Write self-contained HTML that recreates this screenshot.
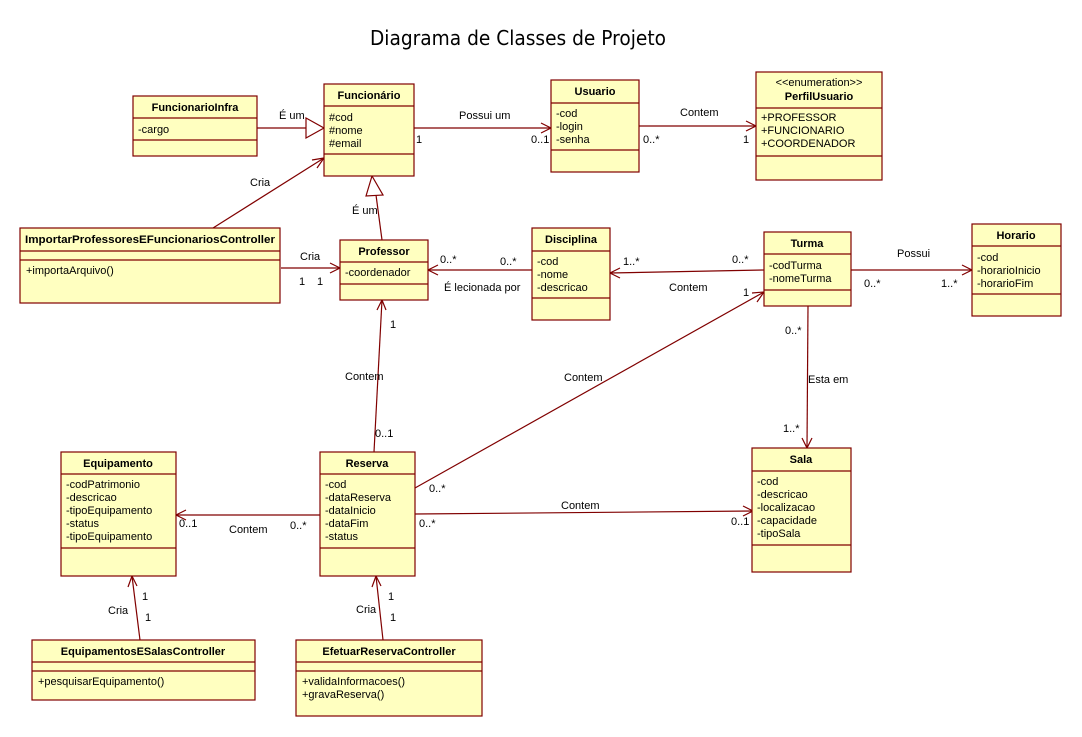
<!DOCTYPE html>
<html><head><meta charset="utf-8"><style>
html,body{margin:0;padding:0;background:#fff;}
svg{display:block;font-family:"Liberation Sans",sans-serif;}
.b{fill:#ffffc0;stroke:#800000;stroke-width:1.2;}
.l{stroke:#800000;stroke-width:1.2;fill:none;}
.t{font-size:11px;fill:#000;}
.h{font-size:11px;font-weight:bold;fill:#000;text-anchor:middle;}
</style></head><body>
<svg width="1082" height="737" viewBox="0 0 1082 737" xmlns="http://www.w3.org/2000/svg">
<text x="518" y="45" font-size="20" text-anchor="middle" textLength="296" lengthAdjust="spacingAndGlyphs" font-family="DejaVu Sans, sans-serif">Diagrama de Classes de Projeto</text>

<g class="l">
<line x1="257" y1="128" x2="306" y2="128"/><polygon points="306,118 324,128 306,138" fill="#fff"/>
<line x1="414" y1="128" x2="551" y2="128"/><polyline points="541,123 551,128 541,133"/>
<line x1="639" y1="126" x2="756" y2="126"/><polyline points="746,121 756,126 746,131"/>
<line x1="213" y1="228" x2="324" y2="158"/><polyline points="312,160 324,158 317,168"/>
<line x1="382" y1="240" x2="376" y2="195"/><polygon points="366,196 372,176 383,195" fill="#fff"/>
<line x1="281" y1="268" x2="340" y2="268"/><polyline points="330,263 340,268 330,273"/>
<line x1="532" y1="270" x2="428" y2="270"/><polyline points="438,265 428,270 438,275"/>
<line x1="764" y1="270" x2="610" y2="273"/><polyline points="620,268 610,273 620,278"/>
<line x1="851" y1="270" x2="972" y2="270"/><polyline points="962,265 972,270 962,275"/>
<line x1="808" y1="306" x2="807" y2="448"/><polyline points="802,438 807,448 812,438"/>
<line x1="374" y1="452" x2="382" y2="300"/><polyline points="377,310 382,300 386,310"/>
<line x1="415" y1="488" x2="764" y2="292"/><polyline points="752,293 764,292 757,302"/>
<line x1="415" y1="514" x2="753" y2="511"/><polyline points="743,506 753,511 743,516"/>
<line x1="320" y1="515" x2="176" y2="515"/><polyline points="186,510 176,515 186,520"/>
<line x1="140" y1="640" x2="132" y2="576"/><polyline points="128,587 132,576 137,586"/>
<line x1="383" y1="640" x2="376" y2="576"/><polyline points="372,587 376,576 381,586"/>
</g>

<g class="t">
<text x="279" y="119">É um</text>
<text x="459" y="119">Possui um</text>
<text x="416" y="143">1</text>
<text x="531" y="143">0..1</text>
<text x="680" y="116">Contem</text>
<text x="643" y="143">0..*</text>
<text x="743" y="143">1</text>
<text x="250" y="186">Cria</text>
<text x="352" y="214">É um</text>
<text x="300" y="260">Cria</text>
<text x="299" y="285">1</text>
<text x="317" y="285">1</text>
<text x="440" y="263">0..*</text>
<text x="500" y="265">0..*</text>
<text x="444" y="291">É lecionada por</text>
<text x="623" y="265">1..*</text>
<text x="732" y="263">0..*</text>
<text x="669" y="291">Contem</text>
<text x="897" y="257">Possui</text>
<text x="864" y="287">0..*</text>
<text x="941" y="287">1..*</text>
<text x="785" y="334">0..*</text>
<text x="808" y="383">Esta em</text>
<text x="783" y="432">1..*</text>
<text x="390" y="328">1</text>
<text x="345" y="380">Contem</text>
<text x="375" y="437">0..1</text>
<text x="564" y="381">Contem</text>
<text x="743" y="296">1</text>
<text x="429" y="492">0..*</text>
<text x="561" y="509">Contem</text>
<text x="419" y="527">0..*</text>
<text x="731" y="525">0..1</text>
<text x="179" y="527">0..1</text>
<text x="229" y="533">Contem</text>
<text x="290" y="529">0..*</text>
<text x="108" y="614">Cria</text>
<text x="142" y="600">1</text>
<text x="145" y="621">1</text>
<text x="356" y="613">Cria</text>
<text x="388" y="600">1</text>
<text x="390" y="621">1</text>
</g>

<rect class="b" x="133" y="96" width="124" height="60"/>
<line class="l" x1="133" y1="118" x2="257" y2="118"/><line class="l" x1="133" y1="140" x2="257" y2="140"/>
<text class="h" x="195" y="111">FuncionarioInfra</text>
<text class="t" x="138" y="133">-cargo</text>

<rect class="b" x="324" y="84" width="90" height="92"/>
<line class="l" x1="324" y1="106" x2="414" y2="106"/><line class="l" x1="324" y1="154" x2="414" y2="154"/>
<text class="h" x="369" y="99">Funcionário</text>
<text class="t" x="329" y="121">#cod</text><text class="t" x="329" y="134">#nome</text><text class="t" x="329" y="147">#email</text>

<rect class="b" x="551" y="80" width="88" height="92"/>
<line class="l" x1="551" y1="103" x2="639" y2="103"/><line class="l" x1="551" y1="150" x2="639" y2="150"/>
<text class="h" x="595" y="95">Usuario</text>
<text class="t" x="556" y="117">-cod</text><text class="t" x="556" y="130">-login</text><text class="t" x="556" y="143">-senha</text>

<rect class="b" x="756" y="72" width="126" height="108"/>
<line class="l" x1="756" y1="108" x2="882" y2="108"/><line class="l" x1="756" y1="156" x2="882" y2="156"/>
<text class="t" x="819" y="86" text-anchor="middle">&lt;&lt;enumeration&gt;&gt;</text>
<text class="h" x="819" y="100">PerfilUsuario</text>
<text class="t" x="761" y="121">+PROFESSOR</text><text class="t" x="761" y="134">+FUNCIONARIO</text><text class="t" x="761" y="147">+COORDENADOR</text>

<rect class="b" x="20" y="228" width="260" height="75"/>
<line class="l" x1="20" y1="251" x2="280" y2="251"/><line class="l" x1="20" y1="260" x2="280" y2="260"/>
<text class="h" x="150" y="243" textLength="250" lengthAdjust="spacingAndGlyphs">ImportarProfessoresEFuncionariosController</text>
<text class="t" x="26" y="274">+importaArquivo()</text>

<rect class="b" x="340" y="240" width="88" height="60"/>
<line class="l" x1="340" y1="262" x2="428" y2="262"/><line class="l" x1="340" y1="284" x2="428" y2="284"/>
<text class="h" x="384" y="255">Professor</text>
<text class="t" x="345" y="276">-coordenador</text>

<rect class="b" x="532" y="228" width="78" height="92"/>
<line class="l" x1="532" y1="251" x2="610" y2="251"/><line class="l" x1="532" y1="298" x2="610" y2="298"/>
<text class="h" x="571" y="243">Disciplina</text>
<text class="t" x="537" y="265">-cod</text><text class="t" x="537" y="278">-nome</text><text class="t" x="537" y="291">-descricao</text>

<rect class="b" x="764" y="232" width="87" height="74"/>
<line class="l" x1="764" y1="254" x2="851" y2="254"/><line class="l" x1="764" y1="290" x2="851" y2="290"/>
<text class="h" x="807" y="247">Turma</text>
<text class="t" x="769" y="269">-codTurma</text><text class="t" x="769" y="282">-nomeTurma</text>

<rect class="b" x="972" y="224" width="89" height="92"/>
<line class="l" x1="972" y1="246" x2="1061" y2="246"/><line class="l" x1="972" y1="294" x2="1061" y2="294"/>
<text class="h" x="1016" y="239">Horario</text>
<text class="t" x="977" y="261">-cod</text><text class="t" x="977" y="274">-horarioInicio</text><text class="t" x="977" y="287">-horarioFim</text>

<rect class="b" x="61" y="452" width="115" height="124"/>
<line class="l" x1="61" y1="474" x2="176" y2="474"/><line class="l" x1="61" y1="548" x2="176" y2="548"/>
<text class="h" x="118" y="467">Equipamento</text>
<text class="t" x="66" y="488">-codPatrimonio</text><text class="t" x="66" y="501">-descricao</text><text class="t" x="66" y="514">-tipoEquipamento</text><text class="t" x="66" y="527">-status</text><text class="t" x="66" y="540">-tipoEquipamento</text>

<rect class="b" x="320" y="452" width="95" height="124"/>
<line class="l" x1="320" y1="474" x2="415" y2="474"/><line class="l" x1="320" y1="548" x2="415" y2="548"/>
<text class="h" x="367" y="467">Reserva</text>
<text class="t" x="325" y="488">-cod</text><text class="t" x="325" y="501">-dataReserva</text><text class="t" x="325" y="514">-dataInicio</text><text class="t" x="325" y="527">-dataFim</text><text class="t" x="325" y="540">-status</text>

<rect class="b" x="752" y="448" width="99" height="124"/>
<line class="l" x1="752" y1="471" x2="851" y2="471"/><line class="l" x1="752" y1="545" x2="851" y2="545"/>
<text class="h" x="801" y="463">Sala</text>
<text class="t" x="757" y="485">-cod</text><text class="t" x="757" y="498">-descricao</text><text class="t" x="757" y="511">-localizacao</text><text class="t" x="757" y="524">-capacidade</text><text class="t" x="757" y="537">-tipoSala</text>

<rect class="b" x="32" y="640" width="223" height="60"/>
<line class="l" x1="32" y1="662" x2="255" y2="662"/><line class="l" x1="32" y1="671" x2="255" y2="671"/>
<text class="h" x="143" y="655">EquipamentosESalasController</text>
<text class="t" x="38" y="685">+pesquisarEquipamento()</text>

<rect class="b" x="296" y="640" width="186" height="76"/>
<line class="l" x1="296" y1="662" x2="482" y2="662"/><line class="l" x1="296" y1="671" x2="482" y2="671"/>
<text class="h" x="389" y="655">EfetuarReservaController</text>
<text class="t" x="302" y="685">+validaInformacoes()</text><text class="t" x="302" y="698">+gravaReserva()</text>
</svg>
</body></html>
